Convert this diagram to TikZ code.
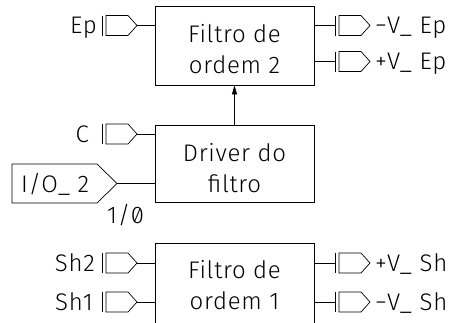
\documentclass[tikz,border=0pt]{standalone}
\usepackage{fontspec}
\newfontfamily\dfont{Fira Sans Light}[LetterSpace=3]
\usetikzlibrary{arrows.meta}
\tikzset{
  ln/.style={line width=0.7pt, draw=black},
  blk/.style={ln, rectangle, minimum width=159pt, inner sep=0pt},
  txt/.style={font=\dfont\fontsize{24}{31}\selectfont, inner sep=0pt, align=center},
  port/.pic={
    \draw[ln] (0,-10) -- (0,10);
    \draw[ln] (4,-10) -- (26,-10) -- (35,0) -- (26,10) -- (4,10) -- cycle;
    \coordinate (-tip) at (35,0);
    \coordinate (-bar) at (0,0);
  }
}
\begin{document}
\begin{tikzpicture}[x=1pt,y=-1pt]
\useasboundingbox (0,0) rectangle (461,322);
\clip (0,0) rectangle (461,322);
% boxes
\node[blk, minimum height=79pt] (f2) at (234.5,45.5) {};
\node[blk, minimum height=77pt] (drv) at (234.5,163.5) {};
\node[blk, minimum height=110pt] (f1) at (234.5,298) {};
\node[txt] (t2) at (234.5,49) {Filtro de\\ordem 2};
\node[txt] (td) at (234.5,168) {Driver do\\filtro};
\node[txt] (t1) at (234.5,285.5) {Filtro de\\ordem 1};
% arrow
\draw[ln, -{Triangle[length=9pt,width=5pt]}] (drv.north) -- (f2.south);
% left ports
\pic (ep) at (102,25.5) {port};
\pic (c) at (102,134) {port};
\pic (sh2) at (102,263) {port};
\pic (sh1) at (102,302) {port};
\draw[ln] (ep-tip) -- (ep-tip -| f2.west);
\draw[ln] (c-tip) -- (c-tip -| drv.west);
\draw[ln] (sh2-tip) -- (sh2-tip -| f1.west);
\draw[ln] (sh1-tip) -- (sh1-tip -| f1.west);
% right ports
\pic (mvep) at (335,25.5) {port};
\pic (pvep) at (335,61.5) {port};
\pic (pvsh) at (335,263) {port};
\pic (mvsh) at (335,302) {port};
\draw[ln] (mvep-bar -| f2.east) -- (mvep-bar);
\draw[ln] (pvep-bar -| f2.east) -- (pvep-bar);
\draw[ln] (pvsh-bar -| f1.east) -- (pvsh-bar);
\draw[ln] (mvsh-bar -| f1.east) -- (mvsh-bar);
% I/O port
\draw[ln] (12,164) -- (97,164) -- (117,183.5) -- (97,203) -- (12,203) -- cycle;
\coordinate (io) at (117,183.5);
\draw[ln] (io) -- (io -| drv.west);
% labels
\node[txt, anchor=base east] (lep) at (97,33.5) {Ep};
\node[txt, anchor=base east] (lc) at (89,142) {C};
\node[txt, anchor=base east] (lsh2) at (95,271) {Sh2};
\node[txt, anchor=base east] (lsh1) at (93,310) {Sh1};
\node[txt, anchor=base west] (lmvep) at (375,33.5) {−V\_ Ep};
\node[txt, anchor=base west] (lpvep) at (375,69.5) {+V\_ Ep};
\node[txt, anchor=base west] (lpvsh) at (375,271) {+V\_ Sh};
\node[txt, anchor=base west] (lmvsh) at (375,310) {−V\_ Sh};
\node[txt, anchor=base west] (lio) at (21,192) {I/O\_ 2};
\node[txt, anchor=base west] (l10) at (107,223) {{\addfontfeature{Numbers=SlashedZero}1/0}};
\end{tikzpicture}
\end{document}
